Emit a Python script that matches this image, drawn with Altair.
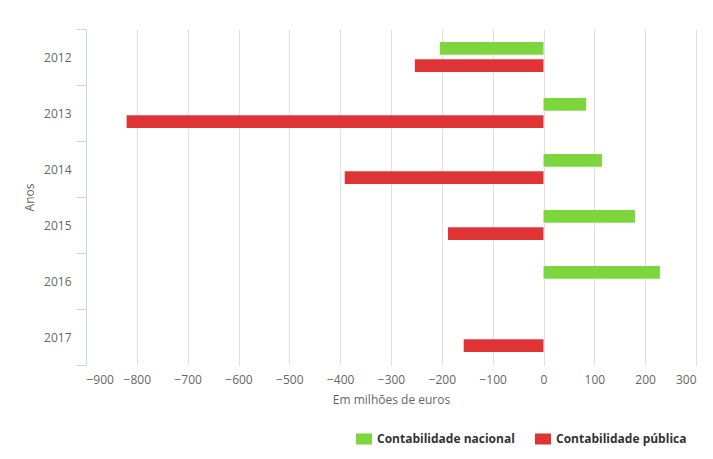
import altair as alt
import pandas as pd

years = ["2012", "2013", "2014", "2015", "2016", "2017"]
series = ["Contabilidade nacional", "Contabilidade pública"]
nacional = [-204, 84, 115, 180, 229, None]
publica = [-253, -820, -391, -188, None, -157]
colors = ["#7ed63f", "#df3336"]
x_ticks = [-900, -800, -700, -600, -500, -400, -300, -200, -100, 0, 100, 200, 300]

rows = []
for yr, n, p in zip(years, nacional, publica):
    if n is not None:
        rows.append({"Ano": yr, "Serie": series[0], "Valor": n})
    if p is not None:
        rows.append({"Ano": yr, "Serie": series[1], "Valor": p})
df = pd.DataFrame(rows)

FONT = "Open Sans"

chart = alt.Chart(df).mark_bar().encode(
    y=alt.Y(
        "Ano:N",
        sort=years,
        scale=alt.Scale(paddingInner=0, paddingOuter=0),
        axis=alt.Axis(
            title="Anos",
            tickBand="extent",
            tickSize=10,
            tickColor="#ccd6eb",
            domainColor="#ccd6eb",
            labelPadding=5,
            labelColor="#666666",
            labelFontSize=12,
            labelFont=FONT,
            titleFont=FONT,
            titleFontSize=12,
            titleFontWeight="normal",
            titleColor="#666666",
            titlePadding=7,
            grid=False,
        ),
    ),
    yOffset=alt.YOffset(
        "Serie:N",
        sort=series,
        scale=alt.Scale(paddingInner=0.25, paddingOuter=0.77),
    ),
    x=alt.X(
        "Valor:Q",
        scale=alt.Scale(domain=[-900, 300], nice=False, zero=False),
        axis=alt.Axis(
            values=x_ticks,
            title="Em milhões de euros",
            domain=False,
            ticks=False,
            grid=True,
            gridColor="#e0e0e0",
            labelPadding=9,
            labelColor="#666666",
            labelFontSize=12,
            labelFont=FONT,
            titleFont=FONT,
            titleFontSize=12,
            titleFontWeight="normal",
            titleColor="#666666",
            titlePadding=9,
            format="d",
        ),
    ),
    color=alt.Color(
        "Serie:N",
        scale=alt.Scale(domain=series, range=colors),
        legend=alt.Legend(
            title=None,
            orient="none",
            direction="horizontal",
            legendX=270,
            legendY=402,
            symbolType="M-1,-0.69H1V0.69H-1Z",
            symbolSize=256,
            symbolStrokeWidth=0,
            labelFont=FONT,
            labelFontSize=12,
            labelFontWeight="bold",
            labelColor="#333333",
            labelOffset=5,
            columnPadding=20,
        ),
    ),
).properties(
    width=610,
    height=336,
    autosize=alt.AutoSizeParams(type="none"),
    padding={"left": 78, "top": 21, "right": 8, "bottom": 88},
).configure_view(stroke=None)

chart.save("out.html", embed_options={"renderer": "svg", "actions": False})
